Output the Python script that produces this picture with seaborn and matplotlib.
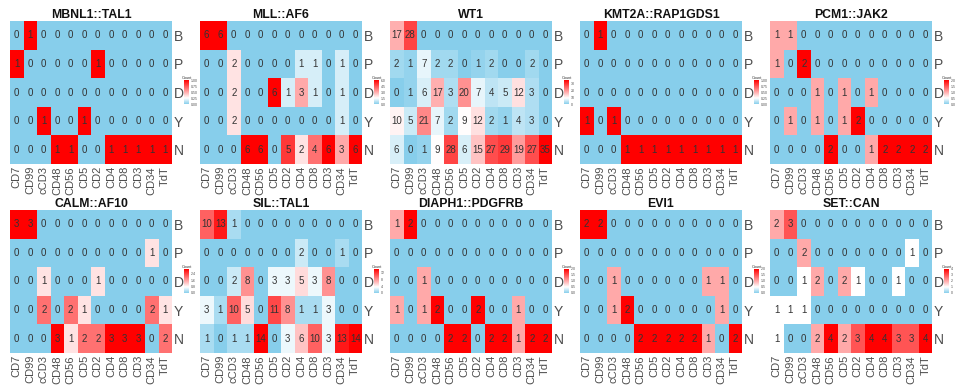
import numpy as np
import pandas as pd
import matplotlib
matplotlib.use("Agg")
import matplotlib.pyplot as plt
import seaborn as sns
from matplotlib.colors import LinearSegmentedColormap
from matplotlib.ticker import MaxNLocator

sns.set_theme(style="white")
plt.rcParams['font.family'] = ['Liberation Sans', 'DejaVu Sans']

markers = ["CD7", "CD99", "cCD3", "CD48", "CD56", "CD5", "CD2", "CD4", "CD8", "CD3", "CD34", "TdT"]
rows = ["B", "P", "D", "Y", "N"]

titles = ["MBNL1::TAL1", "MLL::AF6", "WT1", "KMT2A::RAP1GDS1", "PCM1::JAK2",
          "CALM::AF10", "SIL::TAL1", "DIAPH1::PDGFRB", "EVI1", "SET::CAN"]

mbnl1_tal1 = [
    [0, 1, 0, 0, 0, 0, 0, 0, 0, 0, 0, 0],
    [1, 0, 0, 0, 0, 0, 1, 0, 0, 0, 0, 0],
    [0, 0, 0, 0, 0, 0, 0, 0, 0, 0, 0, 0],
    [0, 0, 1, 0, 0, 1, 0, 0, 0, 0, 0, 0],
    [0, 0, 0, 1, 1, 0, 0, 1, 1, 1, 1, 1],
]
mll_af6 = [
    [6, 6, 0, 0, 0, 0, 0, 0, 0, 0, 0, 0],
    [0, 0, 2, 0, 0, 0, 0, 1, 1, 0, 1, 0],
    [0, 0, 2, 0, 0, 6, 1, 3, 1, 0, 1, 0],
    [0, 0, 2, 0, 0, 0, 0, 0, 0, 0, 1, 0],
    [0, 0, 0, 6, 6, 0, 5, 2, 4, 6, 3, 6],
]
wt1 = [
    [17, 28, 0, 0, 0, 0, 0, 0, 0, 0, 0, 0],
    [2, 1, 7, 2, 2, 0, 1, 2, 0, 0, 2, 0],
    [0, 1, 6, 17, 3, 20, 7, 4, 5, 12, 3, 0],
    [10, 5, 21, 7, 2, 9, 12, 2, 1, 4, 3, 0],
    [6, 0, 1, 9, 28, 6, 15, 27, 29, 19, 27, 35],
]
kmt2a_rap1gds1 = [
    [0, 1, 0, 0, 0, 0, 0, 0, 0, 0, 0, 0],
    [0, 0, 0, 0, 0, 0, 0, 0, 0, 0, 0, 0],
    [0, 0, 0, 0, 0, 0, 0, 0, 0, 0, 0, 0],
    [1, 0, 1, 0, 0, 0, 0, 0, 0, 0, 0, 0],
    [0, 0, 0, 1, 1, 1, 1, 1, 1, 1, 1, 1],
]
pcm1_jak2 = [
    [1, 1, 0, 0, 0, 0, 0, 0, 0, 0, 0, 0],
    [1, 0, 2, 0, 0, 0, 0, 0, 0, 0, 0, 0],
    [0, 0, 0, 1, 0, 1, 0, 1, 0, 0, 0, 0],
    [0, 1, 0, 1, 0, 1, 2, 0, 0, 0, 0, 0],
    [0, 0, 0, 0, 2, 0, 0, 1, 2, 2, 2, 2],
]
calm_af10 = [
    [3, 3, 0, 0, 0, 0, 0, 0, 0, 0, 0, 0],
    [0, 0, 0, 0, 0, 0, 0, 0, 0, 0, 1, 0],
    [0, 0, 1, 0, 0, 0, 1, 0, 0, 0, 0, 0],
    [0, 0, 2, 0, 2, 1, 0, 0, 0, 0, 2, 1],
    [0, 0, 0, 3, 1, 2, 2, 3, 3, 3, 0, 2],
]
sil_tal1 = [
    [10, 13, 1, 0, 0, 0, 0, 0, 0, 0, 0, 0],
    [0, 0, 0, 0, 0, 0, 0, 2, 0, 0, 1, 0],
    [0, 0, 2, 8, 0, 3, 3, 5, 3, 8, 0, 0],
    [3, 1, 10, 5, 0, 11, 8, 1, 1, 3, 0, 0],
    [1, 0, 1, 1, 14, 0, 3, 6, 10, 3, 13, 14],
]
diaph1_pdgfrb = [
    [1, 2, 0, 0, 0, 0, 0, 0, 0, 0, 0, 0],
    [0, 0, 0, 0, 0, 0, 0, 0, 0, 0, 0, 0],
    [0, 0, 1, 0, 0, 0, 0, 0, 0, 0, 0, 0],
    [1, 0, 1, 2, 0, 0, 2, 0, 0, 1, 0, 0],
    [0, 0, 0, 0, 2, 2, 0, 2, 2, 1, 2, 2],
]
evi1 = [
    [2, 2, 0, 0, 0, 0, 0, 0, 0, 0, 0, 0],
    [0, 0, 0, 0, 0, 0, 0, 0, 0, 0, 0, 0],
    [0, 0, 1, 0, 0, 0, 0, 0, 0, 1, 1, 0],
    [0, 0, 1, 2, 0, 0, 0, 0, 0, 0, 1, 0],
    [0, 0, 0, 0, 2, 2, 2, 2, 2, 1, 0, 2],
]
set_can = [
    [2, 3, 0, 0, 0, 0, 0, 0, 0, 0, 0, 0],
    [0, 0, 2, 0, 0, 0, 0, 0, 0, 0, 1, 0],
    [0, 0, 1, 2, 0, 2, 1, 0, 0, 1, 0, 0],
    [1, 1, 1, 0, 0, 0, 0, 0, 0, 0, 0, 0],
    [1, 0, 0, 2, 4, 2, 3, 4, 4, 3, 3, 4],
]

panels = [mbnl1_tal1, mll_af6, wt1, kmt2a_rap1gds1, pcm1_jak2,
          calm_af10, sil_tal1, diaph1_pdgfrb, evi1, set_can]

cmap = LinearSegmentedColormap.from_list(
    "sbwr", [(0.0, "#87CEEB"), (0.25, "#FFFFFF"), (1.0, "#FF0000")])

W, H = 960, 392
fig = plt.figure(figsize=(W / 100, H / 100), dpi=100)

lefts = [10, 200, 390, 580, 770]
tops = [21, 210]
aw, ah = 162, 143

for i, (title, data) in enumerate(zip(titles, panels)):
    r, c = divmod(i, 5)
    x0 = lefts[c]
    y0 = tops[r]
    ax = fig.add_axes([x0 / W, 1 - (y0 + ah) / H, aw / W, ah / H])
    cax = fig.add_axes([(x0 + aw + 12) / W, 1 - (y0 + 71 + 12) / H, 5 / W, 24 / H])
    df = pd.DataFrame(data, index=rows, columns=markers)
    vmax = max(1, df.values.max())
    sns.heatmap(df, ax=ax, cmap=cmap, vmin=0, vmax=vmax, annot=True, fmt="d",
                annot_kws={"fontsize": 7, "color": "#333333"},
                xticklabels=True, yticklabels=True,
                cbar_ax=cax, linewidths=0)
    ax.set_title(title, fontsize=8.8, fontweight="bold", pad=2, color="#111111")
    ax.yaxis.tick_right()
    ax.set_yticklabels(rows, rotation=0, fontsize=10, color="#4d4d4d")
    ax.set_xticklabels(markers, rotation=90, fontsize=8, color="#4d4d4d")
    ax.tick_params(length=0, pad=1.5)
    ax.set_xlabel("")
    ax.set_ylabel("")
    cb = ax.collections[0].colorbar
    cb.outline.set_visible(False)
    cb.locator = MaxNLocator(4)
    cb.update_ticks()
    cax.tick_params(labelsize=2.5, length=0, pad=1, colors="#4d4d4d")
    cax.set_title("Count", fontsize=2.8, pad=1, color="#333333")

fig.savefig("out.png", dpi=100)
